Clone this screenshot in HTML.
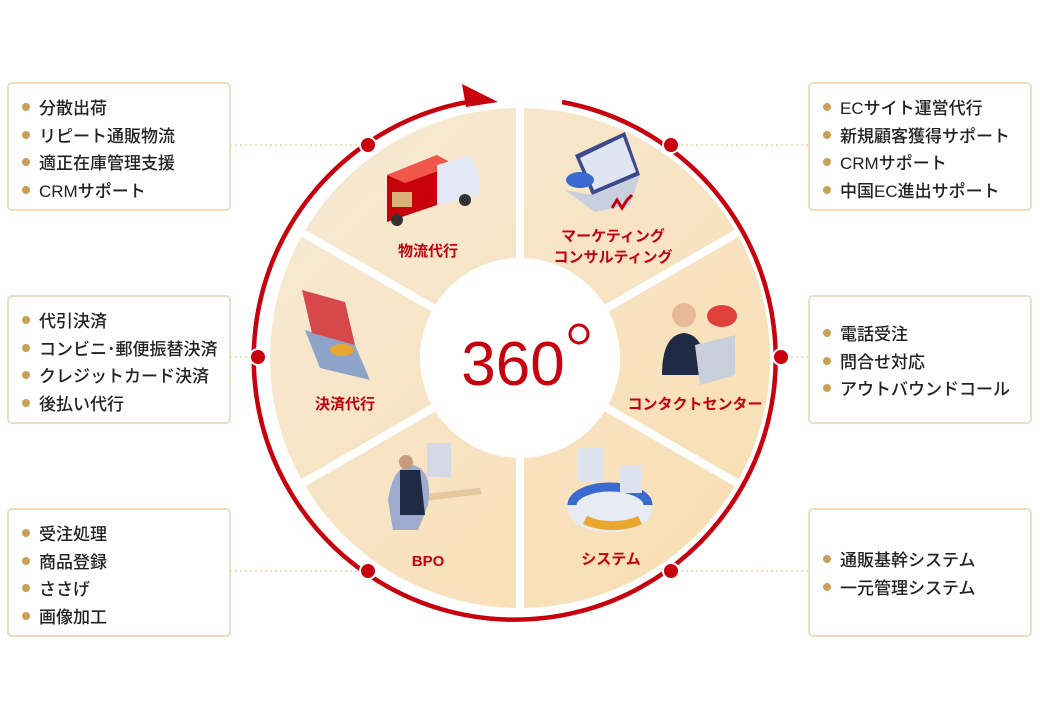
<!DOCTYPE html>
<html><head><meta charset="utf-8"><style>
body{margin:0;width:1040px;height:720px;background:#fff;position:relative;overflow:hidden;font-family:"Liberation Sans","Noto Sans CJK JP",sans-serif}
.box{position:absolute;width:224px;height:129px;border:2px solid #ecdcc0;border-radius:5px;background:#fff;box-sizing:border-box;padding:11px 0 0 13px}
.box div{font-size:17px;line-height:27.5px;color:#222;font-weight:500;white-space:nowrap}
.box div::before{content:"";display:inline-block;width:8px;height:8px;border-radius:50%;background:#c9a05a;margin-right:9px;vertical-align:3px}
svg{position:absolute;left:0;top:0}
</style></head><body>
<svg width="1040" height="720" viewBox="0 0 1040 720">
<defs>
<linearGradient id="g" x1="0" y1="0" x2="1" y2="1">
<stop offset="0" stop-color="#f6ead6"/><stop offset="1" stop-color="#f9ddb0"/></linearGradient>
</defs>
<g stroke="#e8d4b0" stroke-width="1.5" stroke-dasharray="2,3">
<line x1="230" y1="145" x2="368" y2="145"/><line x1="230" y1="357" x2="258" y2="357"/><line x1="230" y1="571" x2="368" y2="571"/>
<line x1="671" y1="145" x2="808" y2="145"/><line x1="781" y1="357" x2="808" y2="357"/><line x1="671" y1="571" x2="808" y2="571"/>
</g>
<circle cx="520" cy="358" r="250" fill="url(#g)"/>
<g stroke="#fff" stroke-width="8">
<line x1="520" y1="100" x2="520" y2="616"/>
<line x1="520" y1="358" x2="744" y2="229"/><line x1="520" y1="358" x2="296" y2="229"/>
<line x1="520" y1="358" x2="744" y2="487"/><line x1="520" y1="358" x2="296" y2="487"/>
</g>
<circle cx="520" cy="358" r="100" fill="#fff"/>
<path d="M562 102 A261 261 0 1 1 480 100" fill="none" stroke="#c8000e" stroke-width="4.5"/>
<polygon points="462,84 498,102 466,107" fill="#c8000e"/>
<g fill="#c8000e" stroke="#fff" stroke-width="2">
<circle cx="368" cy="145" r="8"/><circle cx="258" cy="357" r="8"/><circle cx="368" cy="571" r="8"/>
<circle cx="671" cy="145" r="8"/><circle cx="781" cy="357" r="8"/><circle cx="671" cy="571" r="8"/>
</g>
<text x="513" y="385" text-anchor="middle" font-size="62" fill="#c8000e" font-family="Liberation Sans, sans-serif">360</text>
<circle cx="579" cy="334" r="9" fill="none" stroke="#c8000e" stroke-width="3"/>
<!-- truck -->
<polygon points="387,175 437,155 437,205 387,222" fill="#c8000e"/>
<polygon points="387,175 437,155 455,165 405,183" fill="#f0574a"/>
<polygon points="437,165 470,155 480,175 480,195 437,205" fill="#e4e8f4"/>
<circle cx="397" cy="220" r="6" fill="#333"/><circle cx="465" cy="200" r="6" fill="#333"/>
<rect x="392" y="192" width="20" height="15" fill="#d9b07a"/>
<!-- laptop -->
<polygon points="575,155 625,132 640,175 592,195" fill="#3a4a8a"/>
<polygon points="580,158 623,137 636,172 594,190" fill="#dfe6f2"/>
<polygon points="565,190 592,195 640,175 630,205 595,212" fill="#c8cfdf"/>
<ellipse cx="580" cy="180" rx="14" ry="8" fill="#3a6ad0"/>
<path d="M612 208 l5 -8 l5 8 l5 -8 l5 -5" stroke="#c8000e" stroke-width="3" fill="none"/>
<!-- operator -->
<circle cx="684" cy="315" r="12" fill="#e8b89a"/>
<path d="M662 375 q0 -40 22 -42 q22 2 22 42 z" fill="#1f2a44"/>
<polygon points="695,345 735,335 735,375 700,385" fill="#c9cfdb"/>
<ellipse cx="722" cy="316" rx="15" ry="11" fill="#e0403a"/>
<!-- card -->
<polygon points="305,330 355,345 370,380 320,368" fill="#8da3c8"/>
<polygon points="302,290 345,302 355,345 312,333" fill="#d7484a"/>
<ellipse cx="342" cy="350" rx="12" ry="6" fill="#e8a830"/>
<!-- BPO -->
<rect x="427" y="443" width="24" height="34" fill="#d4d9e4"/>
<polygon points="415,495 480,488 482,494 418,502" fill="#e3c9a0"/>
<path d="M388 500 q5 -35 25 -35 q20 5 15 40 l-10 25 l-25 0 z" fill="#9eaace"/>
<circle cx="406" cy="462" r="7" fill="#c69a7c"/>
<path d="M400 470 l20 0 l5 45 l-25 0 z" fill="#1f2a44"/>
<!-- system -->
<ellipse cx="610" cy="510" rx="42" ry="22" fill="#e6ebf4"/>
<path d="M572 505 a38 18 0 0 1 76 0" stroke="#3a6ad0" stroke-width="9" fill="none"/>
<path d="M585 520 a38 18 0 0 0 55 0" stroke="#e8a830" stroke-width="9" fill="none"/>
<rect x="578" y="448" width="26" height="34" fill="#dde3ee"/><rect x="620" y="465" width="22" height="28" fill="#dde3ee"/>
<g font-size="15" font-weight="bold" fill="#c8000e" text-anchor="middle" font-family="Liberation Sans, Noto Sans CJK JP, sans-serif">
<text x="428" y="256">物流代行</text>
<text x="613" y="241">マーケティング</text><text x="613" y="262">コンサルティング</text>
<text x="695" y="409">コンタクトセンター</text>
<text x="345" y="409">決済代行</text>
<text x="428" y="566">BPO</text>
<text x="611" y="564">システム</text>
</g>
</svg>
<div class="box" style="left:7px;top:82px"><div>分散出荷</div><div>リピート通販物流</div><div>適正在庫管理支援</div><div>CRMサポート</div></div>
<div class="box" style="left:7px;top:295px"><div>代引決済</div><div>コンビニ･郵便振替決済</div><div>クレジットカード決済</div><div>後払い代行</div></div>
<div class="box" style="left:7px;top:508px"><div>受注処理</div><div>商品登録</div><div>ささげ</div><div>画像加工</div></div>
<div class="box" style="left:808px;top:82px"><div>ECサイト運営代行</div><div>新規顧客獲得サポート</div><div>CRMサポート</div><div>中国EC進出サポート</div></div>
<div class="box" style="left:808px;top:295px;padding-top:24px"><div>電話受注</div><div>問合せ対応</div><div>アウトバウンドコール</div></div>
<div class="box" style="left:808px;top:508px;padding-top:37px"><div>通販基幹システム</div><div>一元管理システム</div></div>
</body></html>
